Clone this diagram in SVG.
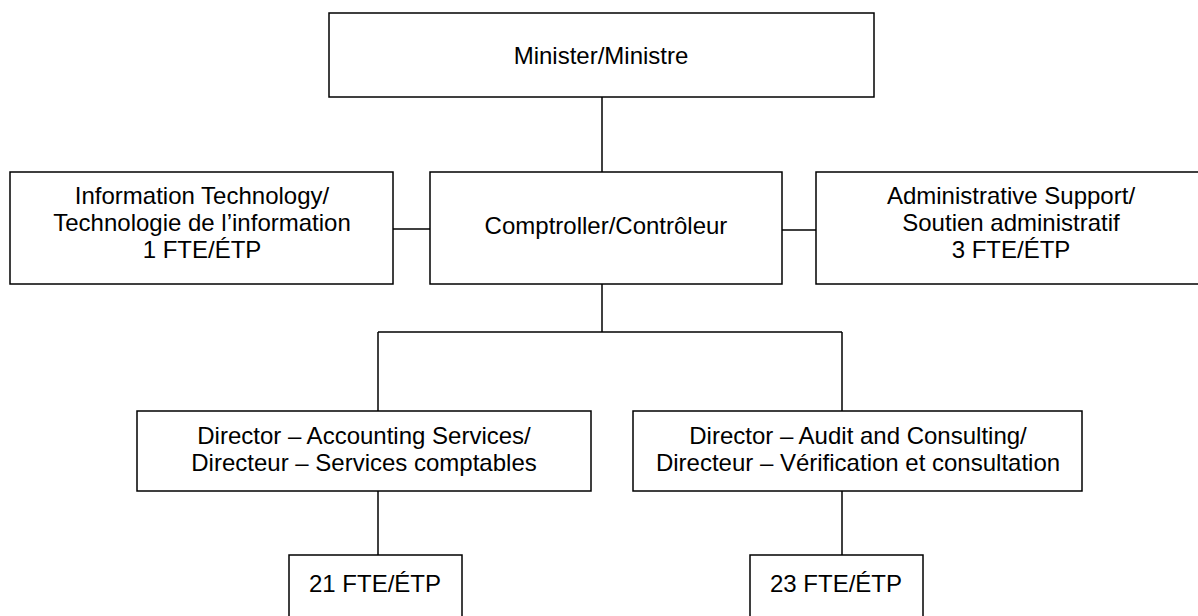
<svg xmlns="http://www.w3.org/2000/svg" width="1198" height="616" viewBox="0 0 1198 616">
<style>
.box{fill:#fff;stroke:#000;stroke-width:1.5}
.c line{stroke:#000;stroke-width:1.5}
text{font-family:"Liberation Sans",Arial,sans-serif;font-size:24px;fill:#000;text-anchor:middle}
</style>
<rect width="1198" height="616" fill="#fff"/>
<g class="c" id="connectors">
<line x1="602" y1="97" x2="602" y2="172"/>
<line x1="393" y1="229" x2="430" y2="229"/>
<line x1="782" y1="230" x2="816" y2="230"/>
<line x1="602" y1="284" x2="602" y2="332"/>
<line x1="378" y1="332" x2="842" y2="332"/>
<line x1="378" y1="332" x2="378" y2="411"/>
<line x1="842" y1="332" x2="842" y2="411"/>
<line x1="378" y1="491" x2="378" y2="555"/>
<line x1="842" y1="491" x2="842" y2="555"/>
</g>
<g id="minister"><rect class="box" x="329" y="13" width="545" height="84"/><text x="601" y="64">Minister/Ministre</text></g>
<g id="it"><rect class="box" x="10" y="172" width="383" height="112"/><text x="202" y="204">Information Technology/</text><text x="202" y="231">Technologie de l’information</text><text x="202" y="258">1 FTE/ÉTP</text></g>
<g id="comptroller"><rect class="box" x="430" y="172" width="352" height="112"/><text x="606" y="234">Comptroller/Contrôleur</text></g>
<g id="admin"><rect class="box" x="816" y="172" width="400" height="112"/><text x="1011" y="204">Administrative Support/</text><text x="1011" y="231">Soutien administratif</text><text x="1011" y="258">3 FTE/ÉTP</text></g>
<g id="dir-accounting"><rect class="box" x="137" y="411" width="454" height="80"/><text x="364" y="444">Director – Accounting Services/</text><text x="364" y="471">Directeur – Services comptables</text></g>
<g id="dir-audit"><rect class="box" x="633" y="411" width="449" height="80"/><text x="858" y="444">Director – Audit and Consulting/</text><text x="858" y="471">Directeur – Vérification et consultation</text></g>
<g id="fte21"><rect class="box" x="289" y="555" width="173" height="80"/><text x="375" y="592">21 FTE/ÉTP</text></g>
<g id="fte23"><rect class="box" x="750" y="555" width="173" height="80"/><text x="836" y="592">23 FTE/ÉTP</text></g>
</svg>
